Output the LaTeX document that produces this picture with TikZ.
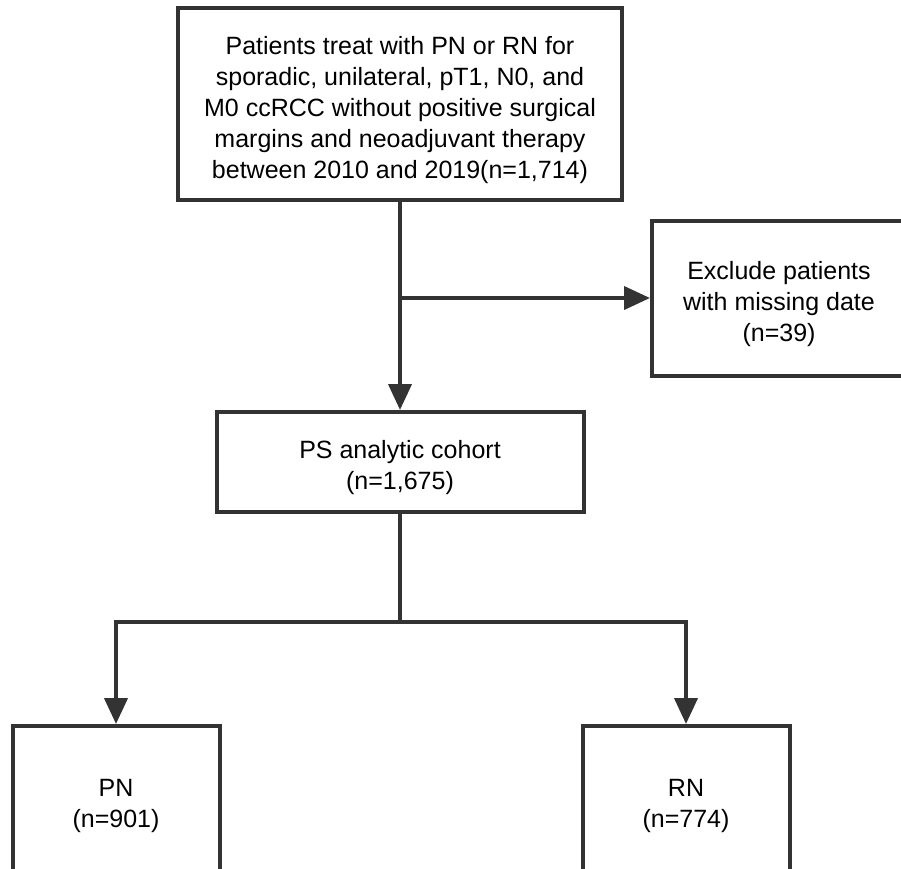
\documentclass[tikz,border=0pt]{standalone}
\usepackage{fontspec}
\setmainfont{Liberation Sans}
\usetikzlibrary{arrows.meta}

\definecolor{linegray}{HTML}{333333}

\tikzset{
  box/.style={draw=linegray, line width=4pt, fill=white, inner sep=0pt},
  txt/.style={align=center, inner sep=0pt, yshift=-6pt,
    font=\fontsize{25}{31}\selectfont},
  arr/.style={draw=linegray, line width=4pt, -{Triangle[length=26pt,width=23pt]}},
  link/.style={draw=linegray, line width=4pt}
}

\begin{document}
\begin{tikzpicture}[x=1pt,y=-1pt]

\clip (0,0) rectangle (901,868);
\fill[white] (0,0) rectangle (901,868);

% boxes
\node[box, minimum width=444pt, minimum height=192pt,
  label={[txt]center:Patients treat with PN or RN for\\sporadic, unilateral, pT1, N0, and\\M0 ccRCC without positive surgical\\margins and neoadjuvant therapy\\between 2010 and 2019(n=1,714)}]
  (start) at (400,104) {};
\node[box, minimum width=254pt, minimum height=155pt,
  label={[txt]center:Exclude patients\\with missing date\\(n=39)}]
  (excl) at (779,298) {};
\node[box, minimum width=367pt, minimum height=100pt,
  label={[txt]center:PS analytic cohort\\(n=1,675)}]
  (cohort) at (400,462) {};
\node[box, minimum width=207pt, minimum height=148pt,
  label={[txt]center:PN\\(n=901)}]
  (pn) at (116,800) {};
\node[box, minimum width=207pt, minimum height=148pt,
  label={[txt]center:RN\\(n=774)}]
  (rn) at (686,800) {};

% connectors
\coordinate (split) at (400,622);
\draw[arr] (start) -- (cohort);
\draw[arr] (start.south |- excl.west) -- (excl.west);
\draw[link] (cohort) -- (split);
\draw[arr] (split) -| (pn);
\draw[arr] (split) -| (rn);

\end{tikzpicture}
\end{document}
